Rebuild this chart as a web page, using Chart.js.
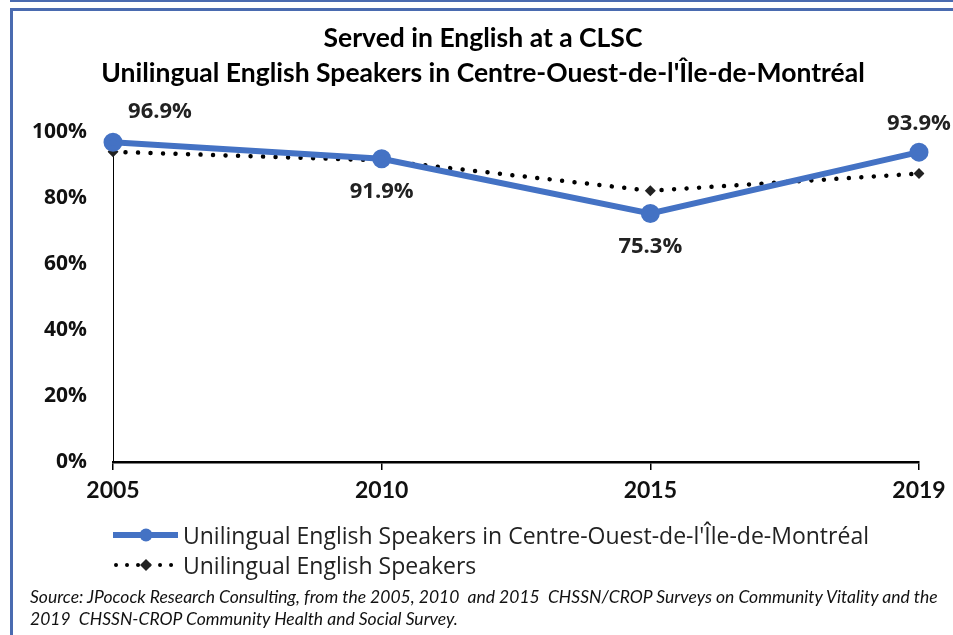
<!DOCTYPE html>
<html lang="en">
<head>
    <meta charset="UTF-8">
    <title>Served in English at a CLSC</title>
    <script src="https://cdn.jsdelivr.net/npm/chart.js"></script>
    <style>
        html, body { margin: 0; padding: 0; background: #fff; }
        body { width: 953px; height: 635px; position: relative; overflow: hidden; }
        #topLine { position: absolute; left: 10px; right: 0; top: 0; height: 2px; background: #4a6bb0; }
        #frame { position: absolute; left: 10px; top: 8px; width: 960px; height: 640px;
                 border-left: 3px solid #4a6bb0; border-top: 3px solid #4a6bb0; }
        #chartWrap { position: absolute; left: 0; top: 0; width: 953px; height: 635px; }
        .title { position: absolute; left: 13px; width: 940px; text-align: center;
                 font-family: Lato, sans-serif; font-weight: bold; font-size: 26.5px; color: #000; }
        .legend { position: absolute; left: 113px; font-family: "Open Sans", sans-serif;
                  font-size: 23px; color: #222; display: flex; align-items: center; height: 30px; }
        .legend svg { margin-right: 5px; }
        .source { position: absolute; left: 30px; font-family: Lato, sans-serif; font-style: italic;
                  font-size: 17.5px; color: #111; white-space: nowrap; }
    </style>
</head>
<body>
    <div id="topLine"></div>
    <div id="frame"></div>
    <div id="chartWrap"><canvas id="servedChart" width="953" height="635"></canvas></div>

    <div class="title" style="top:21px;">Served in English at a CLSC</div>
    <div class="title" style="top:56px;">Unilingual English Speakers in Centre-Ouest-de-l'Île-de-Montréal</div>

    <div class="legend" style="top:520px;">
        <svg width="65" height="20"><line x1="0" y1="10" x2="65" y2="10" stroke="#4472C4" stroke-width="6"/><circle cx="33" cy="10" r="6.5" fill="#4472C4"/></svg>
        <span id="legend0"></span>
    </div>
    <div class="legend" style="top:550px;">
        <svg width="65" height="20"><line x1="3" y1="10" x2="63" y2="10" stroke="#000" stroke-width="4" stroke-linecap="round" stroke-dasharray="0.01 11"/><polygon points="33,4 39,10 33,16 27,10" fill="#222"/></svg>
        <span id="legend1"></span>
    </div>

    <div class="source" style="top:586px;">Source: JPocock Research Consulting, from the 2005, 2010&nbsp; and 2015&nbsp; CHSSN/CROP Surveys on Community Vitality and the</div>
    <div class="source" style="top:608px;">2019&nbsp; CHSSN-CROP Community Health and Social Survey.</div>

    <script>
        // Data
        const years = ['2005', '2010', '2015', '2019'];
        const seriesNames = [
            "Unilingual English Speakers in Centre-Ouest-de-l'Île-de-Montréal",
            'Unilingual English Speakers'
        ];
        const centreOuest = [96.9, 91.9, 75.3, 93.9];
        const allUnilingual = [94.0, 91.4, 82.2, 87.4];
        const yTicks = [0, 20, 40, 60, 80, 100];
        const labelSide = ['aboveRight', 'below', 'below', 'above'];

        document.getElementById('legend0').textContent = seriesNames[0];
        document.getElementById('legend1').textContent = seriesNames[1];

        // Value labels on the blue series
        const valueLabels = {
            id: 'valueLabels',
            afterDatasetsDraw(chart) {
                const meta = chart.getDatasetMeta(0);
                const c = chart.ctx;
                c.save();
                c.font = 'bold 22px "Open Sans", sans-serif';
                c.fillStyle = '#222';
                c.textAlign = 'center';
                c.textBaseline = 'middle';
                meta.data.forEach((pt, i) => {
                    let x = pt.x, y = pt.y;
                    if (labelSide[i] === 'aboveRight') { x += 47; y -= 30; }
                    else if (labelSide[i] === 'above') { y -= 28; }
                    else { y += 33; }
                    c.fillText(centreOuest[i].toFixed(1) + '%', x, y);
                });
                c.restore();
            }
        };

        // Thin vertical line from the first dotted point down to the axis
        const dropLine = {
            id: 'dropLine',
            beforeDatasetsDraw(chart) {
                const pt = chart.getDatasetMeta(1).data[0];
                const c = chart.ctx;
                c.save();
                c.strokeStyle = '#000';
                c.lineWidth = 1;
                c.beginPath();
                c.moveTo(Math.round(pt.x) + 0.5, pt.y);
                c.lineTo(Math.round(pt.x) + 0.5, chart.scales.y.getPixelForValue(0));
                c.stroke();
                c.restore();
            }
        };

        const ctx = document.getElementById('servedChart').getContext('2d');
        new Chart(ctx, {
            type: 'line',
            data: {
                labels: years,
                datasets: [{
                    label: seriesNames[0],
                    data: centreOuest,
                    borderColor: '#4472C4',
                    backgroundColor: '#4472C4',
                    borderWidth: 6,
                    pointRadius: 6.5,
                    pointHoverRadius: 6.5,
                    tension: 0,
                    order: 0
                }, {
                    label: seriesNames[1],
                    data: allUnilingual,
                    borderColor: '#000',
                    backgroundColor: '#222',
                    borderWidth: 4.5,
                    borderDash: [0.01, 12.5],
                    borderCapStyle: 'round',
                    pointStyle: 'rectRot',
                    pointRadius: 5.5,
                    pointBorderWidth: 0,
                    tension: 0,
                    order: 1
                }]
            },
            options: {
                responsive: false,
                animation: false,
                layout: { padding: { left: 13, right: 34, top: 132, bottom: 123 } },
                plugins: {
                    legend: { display: false },
                    title: { display: false },
                    tooltip: { enabled: false }
                },
                scales: {
                    x: {
                        offset: false,
                        grid: { display: true, drawOnChartArea: false, drawTicks: true, tickLength: 8, color: '#000', lineWidth: 1.5 },
                        border: { display: true, color: '#000', width: 2.5 },
                        ticks: { color: '#111', padding: 7, maxRotation: 0, font: { family: 'Lato', weight: 'bold', size: 23 } },
                        afterFit(scale) { scale.height = 50; }
                    },
                    y: {
                        min: 0,
                        max: 100,
                        afterBuildTicks(scale) { scale.ticks = yTicks.map(v => ({ value: v })); },
                        grid: { display: false },
                        border: { display: false },
                        ticks: {
                            color: '#111',
                            padding: 18,
                            font: { family: 'Open Sans', weight: 'bold', size: 21 },
                            callback: v => v + '%'
                        },
                        afterFit(scale) { scale.width = 100; }
                    }
                }
            },
            plugins: [dropLine, valueLabels]
        });
    </script>
</body>
</html>
